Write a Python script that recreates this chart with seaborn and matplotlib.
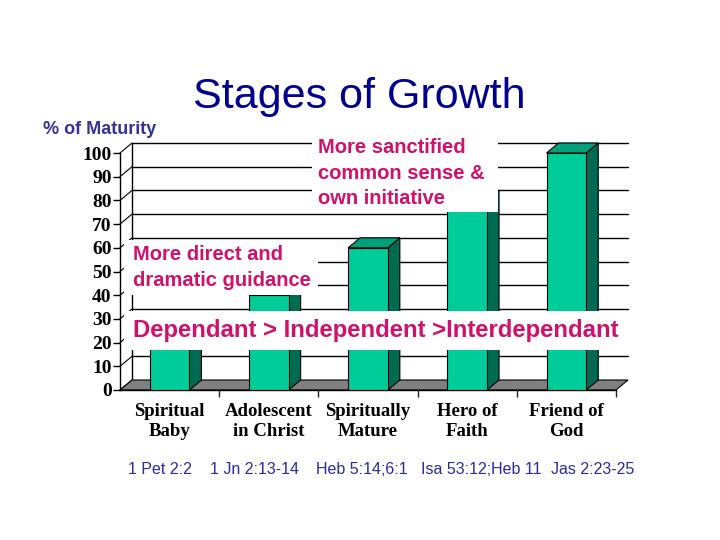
import numpy as np
import pandas as pd
import seaborn as sns
import matplotlib.pyplot as plt
from matplotlib.patches import Polygon, Rectangle

# data
stages = ['Spiritual\nBaby', 'Adolescent\nin Christ', 'Spiritually\nMature', 'Hero of\nFaith', 'Friend of\nGod']
maturity = [20, 40, 60, 80, 100]
verses = ['1 Pet 2:2', '1 Jn 2:13-14', 'Heb 5:14;6:1', 'Isa 53:12;Heb 11', 'Jas 2:23-25']
y_ticks = list(range(0, 101, 10))
notes = ['More sanctified\ncommon sense &\nown initiative',
         'More direct and\ndramatic guidance',
         'Dependant > Independent >Interdependant']

W, H = 720, 540
def fx(x): return x / W
def fy(y): return 1 - y / H

sns.set_theme(style='white')
plt.rcParams['font.family'] = ['Liberation Sans', 'DejaVu Sans']

fig = plt.figure(figsize=(7.2, 5.4), dpi=100)
fig.patch.set_facecolor('white')
ax = fig.add_axes([fx(120), fy(390), fx(616) - fx(120), fy(153) - fy(390)])
ax.set_facecolor('none')

df = pd.DataFrame({'stage': stages, 'maturity': maturity})
sns.barplot(data=df, x='stage', y='maturity', color='#00cc99', saturation=1,
            width=0.40, edgecolor='black', linewidth=0.8, ax=ax, zorder=4)
bars = list(ax.containers[0])
ax.set_xlim(-0.5, 4.5)
ax.set_ylim(0, 100)

# 3d depth offsets (data units)
dx = 12 / 99.2
dy = 10 / 2.37

# floor
ax.add_patch(Polygon([(-0.5, 0), (4.5, 0), (4.5 + dx, dy), (-0.5 + dx, dy)],
                     facecolor='#808080', edgecolor='black', lw=0.8, zorder=1, clip_on=False))
# back wall gridlines + left wall
for v in y_ticks:
    if v > 0:
        ax.plot([-0.5 + dx, 4.5 + dx], [v + dy, v + dy], color='black', lw=1, zorder=0.5, clip_on=False)
    ax.plot([-0.5, -0.5 + dx], [v, v + dy], color='black', lw=0.8, zorder=0.5, clip_on=False)
ax.plot([-0.5 + dx, -0.5 + dx], [dy, 100 + dy], color='black', lw=1, zorder=0.5, clip_on=False)

# side and top faces of bars
for p in bars:
    x0, w, h = p.get_x(), p.get_width(), p.get_height()
    ax.add_patch(Polygon([(x0 + w, 0), (x0 + w + dx, dy), (x0 + w + dx, h + dy), (x0 + w, h)],
                         facecolor='#006b50', edgecolor='black', lw=0.8, zorder=3, clip_on=False))
    ax.add_patch(Polygon([(x0, h), (x0 + dx, h + dy), (x0 + w + dx, h + dy), (x0 + w, h)],
                         facecolor='#00a07a', edgecolor='black', lw=0.8, zorder=3, clip_on=False))

# axes
for s in ['top', 'right']:
    ax.spines[s].set_visible(False)
for s in ['left', 'bottom']:
    ax.spines[s].set_color('black')
    ax.spines[s].set_linewidth(1)
ax.set_yticks(y_ticks)
ax.set_yticklabels([str(v) for v in y_ticks], family='Liberation Serif', fontweight='bold', fontsize=14)
ax.tick_params(axis='y', direction='out', length=5, width=1, pad=1, colors='black', left=True)
ax.set_xticks(range(len(stages)))
ax.set_xticklabels(stages, family='Liberation Serif', fontweight='bold', fontsize=13.5, linespacing=1.3)
ax.tick_params(axis='x', length=0, pad=9, colors='black')
ax.set_xticks(np.arange(0.5, 5, 1), minor=True)
ax.tick_params(axis='x', which='minor', direction='out', length=5, width=1, bottom=True)
ax.set_xlabel('')
ax.set_ylabel('')

# titles
fig.text(fx(359), fy(108), 'Stages of Growth', ha='center', va='baseline', fontsize=31, color='#000090')
fig.text(fx(43), fy(134), '% of Maturity', ha='left', va='baseline', fontsize=13, fontweight='bold', color='#333399')

# callout boxes
pink = '#d0106a'
for (x0, y0, x1, y1) in [(312, 134, 498, 212), (124, 240, 318, 295), (124, 311, 634, 350)]:
    fig.add_artist(Rectangle((fx(x0), fy(y1)), fx(x1) - fx(x0), fy(y0) - fy(y1),
                             transform=fig.transFigure, facecolor='white', edgecolor='none', zorder=2))
fig.text(fx(318), fy(138), notes[0], ha='left', va='top', fontsize=14.5, fontweight='bold', color=pink, linespacing=1.45, zorder=3)
fig.text(fx(133), fy(245), notes[1], ha='left', va='top', fontsize=14.5, fontweight='bold', color=pink, linespacing=1.45, zorder=3)
fig.text(fx(133), fy(331), notes[2], ha='left', va='center', fontsize=17.2, fontweight='bold', color=pink, zorder=3)

# scripture references
for xl, t in zip([128, 210, 316, 421, 551], verses):
    fig.text(fx(xl), fy(474), t, ha='left', va='baseline', fontsize=11.5, color='#2a2a9a')

fig.savefig('out.png', dpi=100, facecolor='white')
